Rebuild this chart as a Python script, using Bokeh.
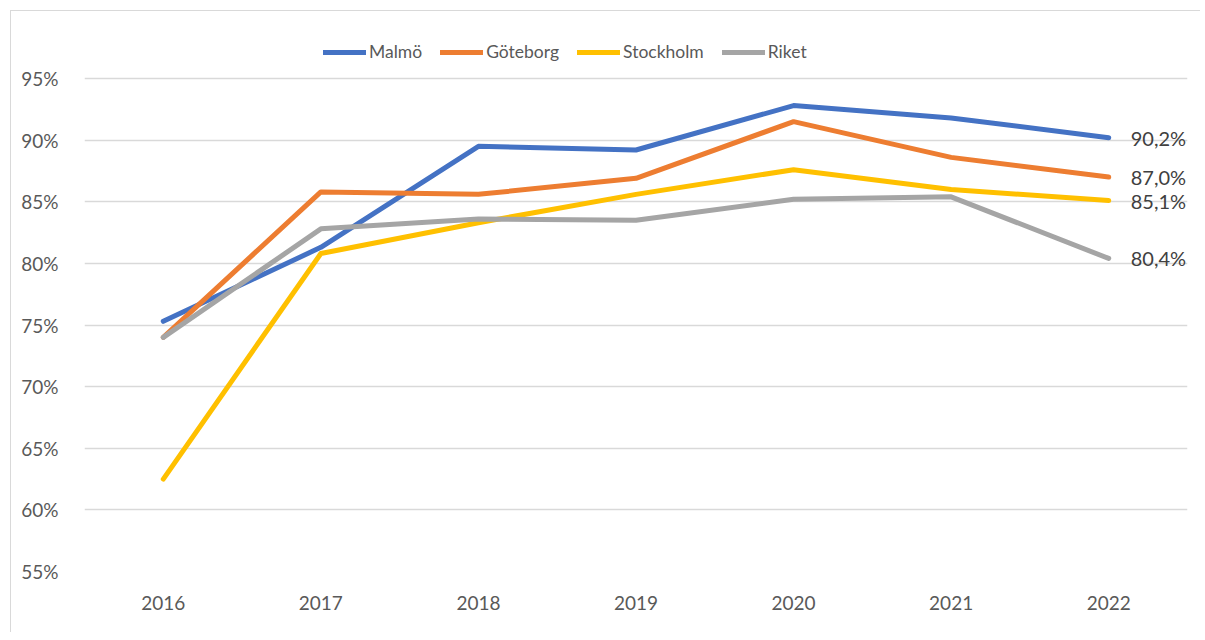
from bokeh.plotting import figure
from bokeh.models import Range1d, FixedTicker, Legend, LegendItem, ColumnDataSource, CustomJSTickFormatter
from bokeh.core.properties import value
from bokeh.embed import file_html
from bokeh.resources import INLINE

years = [2016, 2017, 2018, 2019, 2020, 2021, 2022]
malmo = [75.3, 81.3, 89.5, 89.2, 92.8, 91.8, 90.2]
goteborg = [74.0, 85.8, 85.6, 86.9, 91.5, 88.6, 87.0]
stockholm = [62.5, 80.8, 83.3, 85.6, 87.6, 86.0, 85.1]
riket = [74.0, 82.8, 83.6, 83.5, 85.2, 85.4, 80.4]
names = ["Malmö", "Göteborg", "Stockholm", "Riket"]
colors = ["#4472C4", "#ED7D31", "#FFC000", "#A5A5A5"]
y_ticks = [55, 60, 65, 70, 75, 80, 85, 90, 95]

FONT = "Lato"

# layout in pixels
W, H = 1190, 622
BL, BR, BT, BB = 73, 14, 10, 62
top95 = 67  # pixel y of 95% gridline inside figure
ppu = (H - BB - top95) / 40.0
y_end = 95 + (top95 - BT) / ppu

p = figure(width=W, height=H, output_backend="svg", toolbar_location=None,
           x_range=Range1d(2015.5, 2022.5), y_range=Range1d(55, y_end),
           min_border_left=BL, min_border_right=BR, min_border_bottom=BB, min_border_top=BT)
p.styles = {"border-top": "1px solid #d9d9d9", "border-left": "1px solid #d9d9d9",
            "margin-top": "10px", "margin-left": "10px"}
p.outline_line_color = None
p.background_fill_color = "white"

p.xaxis.ticker = FixedTicker(ticks=years)
p.yaxis.ticker = FixedTicker(ticks=y_ticks)
p.yaxis.formatter = CustomJSTickFormatter(code="return tick.toFixed(0) + '%';")
for ax in (p.xaxis[0], p.yaxis[0]):
    ax.axis_line_color = None
    ax.major_tick_line_color = None
    ax.minor_tick_line_color = None
    ax.major_label_text_font = FONT
    ax.major_label_text_font_size = "19px"
    ax.major_label_text_color = "#595959"
p.yaxis.major_label_standoff = 20
p.xaxis.major_label_standoff = 18
p.xgrid.grid_line_color = None
p.ygrid.grid_line_color = "#d9d9d9"
p.ygrid.grid_line_width = 1.5

series = [malmo, goteborg, stockholm, riket]
items = []
for name, vals, col in zip(names, series, colors):
    r = p.line(years, vals, line_color=col, line_width=5, line_cap="round", line_join="round")
    items.append(LegendItem(label=name, renderers=[r]))

last = ColumnDataSource(dict(x=[years[-1]] * 4, y=[s[-1] for s in series],
                             t=[("%.1f%%" % s[-1]).replace(".", ",") for s in series]))
p.text(x="x", y="y", text="t", source=last, x_offset=22, text_align="left", text_baseline="middle",
       text_font=value(FONT), text_font_size="20px", text_color="#404040")

legend = Legend(items=items, orientation="horizontal", location=(239, 509),
                glyph_width=43, glyph_height=10, label_standoff=3, spacing=18,
                label_text_font=FONT, label_text_font_size="17.5px", label_text_color="#595959",
                border_line_color=None, background_fill_alpha=0, padding=0, margin=0)
p.add_layout(legend)

open("out.html", "w").write(file_html(p, INLINE))
